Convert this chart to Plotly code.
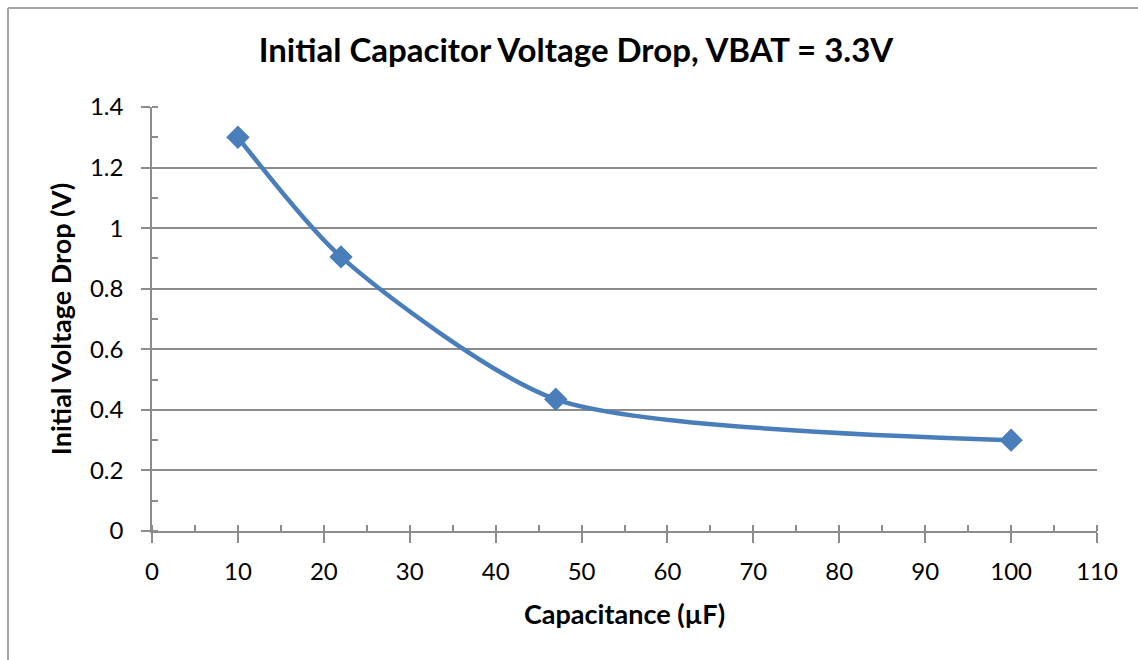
import plotly.graph_objects as go

capacitance = [10, 22, 47, 100]
voltage_drop = [1.30, 0.905, 0.435, 0.30]

title_text = "Initial Capacitor Voltage Drop, VBAT = 3.3V"
x_title = "Capacitance (µF)"
y_title = "Initial Voltage Drop (V)"

FONT = "Lato, Carlito, Calibri, sans-serif"
GRID = "#8c8c8c"

fig = go.Figure()
fig.add_trace(go.Scatter(
    x=capacitance, y=voltage_drop, mode="lines+markers",
    line=dict(color="#4A7EBB", width=4.5, shape="spline", smoothing=0.7),
    marker=dict(symbol="diamond", size=18, color="#4A7EBB"),
    showlegend=False,
))
# invisible trace on overlay axis to show inward major ticks on x
fig.add_trace(go.Scatter(x=capacitance, y=voltage_drop, xaxis="x2", mode="none",
                         showlegend=False, hoverinfo="skip"))

W, H = 1138, 660
L, R, T, B = 152, 1097, 107, 531
pw, ph = R - L, B - T

fig.update_layout(
    width=W, height=H,
    margin=dict(l=L, r=W - R, t=T, b=H - B),
    paper_bgcolor="white", plot_bgcolor="white",
    font=dict(family=FONT, color="black"),
    title=dict(text=f"<b>{title_text}</b>", x=576 / W, xanchor="center",
               y=1 - 50 / H, yanchor="middle", font=dict(size=33, family=FONT)),
    xaxis=dict(range=[0, 110], dtick=10, tick0=0, showgrid=False,
               showline=True, linecolor=GRID, linewidth=1.5,
               ticks="outside", ticklen=10, tickcolor=GRID, tickwidth=1.5,
               ticklabelstandoff=8,
               minor=dict(dtick=5, ticks="inside", ticklen=6, tickcolor=GRID, tickwidth=1.5),
               tickfont=dict(size=24), zeroline=False,
               title=dict(text=f"<b>{x_title}</b>", font=dict(size=27), standoff=22)),
    xaxis2=dict(overlaying="x", matches="x", range=[0, 110], dtick=10, tick0=0,
                showgrid=False, showline=False, ticks="inside", ticklen=6,
                tickcolor=GRID, tickwidth=1.5, showticklabels=False, side="bottom",
                zeroline=False),
    yaxis=dict(range=[0, 1.4], dtick=0.2, tick0=0, showgrid=True,
               gridcolor=GRID, gridwidth=1.5, showline=True, linecolor=GRID, linewidth=1.5,
               ticks="outside", ticklen=9, tickcolor=GRID, tickwidth=1.5,
               ticklabelstandoff=13,
               minor=dict(dtick=0.1, ticks="inside", ticklen=6, tickcolor=GRID, tickwidth=1.5,
                          showgrid=False),
               tickfont=dict(size=24), zeroline=False, tickformat="~g",
               title=dict(text=f"<b>{y_title}</b>", font=dict(size=27), standoff=10)),
    shapes=[
        dict(type="line", xref="paper", yref="paper",
             x0=(8 - L) / pw, x1=(W + 5 - L) / pw,
             y0=(B - 8) / ph, y1=(B - 8) / ph,
             line=dict(color="#a6a6a6", width=2)),
        dict(type="line", xref="paper", yref="paper",
             x0=(8 - L) / pw, x1=(8 - L) / pw,
             y0=(B - 8) / ph, y1=(B - H - 5) / ph,
             line=dict(color="#a6a6a6", width=2)),
    ],
)

fig.write_html("out.html", config={"displayModeBar": False},
               post_script="document.body.style.margin='0px';")
